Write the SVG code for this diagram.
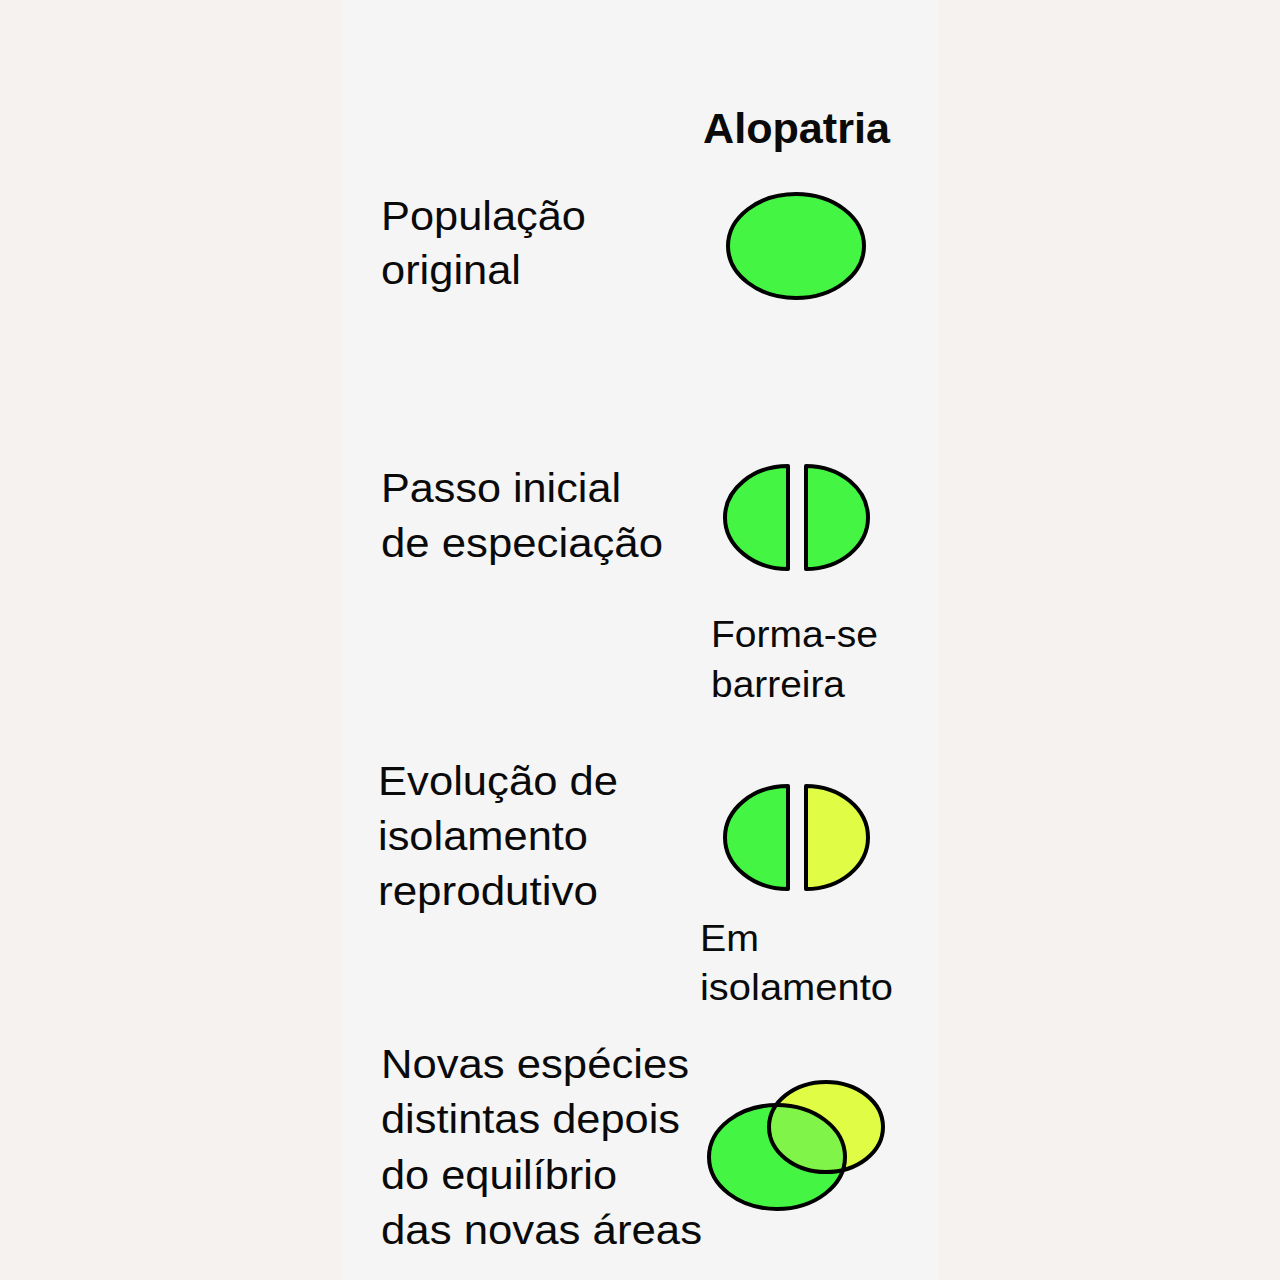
<svg xmlns="http://www.w3.org/2000/svg" width="1280" height="1280" viewBox="0 0 1280 1280">
<style>
text{font-family:"Liberation Sans",Arial,sans-serif;fill:#0a0a0a;font-size:40px}
.t{font-weight:bold;font-size:42px}
.g{fill:#44f544}
.y{fill:#e0fc44}
.s{stroke:#000;stroke-width:4;stroke-linejoin:round}
.n{fill:none}
</style>
<defs>
<clipPath id="cg"><ellipse cx="777" cy="1157" rx="68" ry="52"/></clipPath>
</defs>
<rect width="1280" height="1280" fill="#f5f2f0"/>
<rect x="343" y="0" width="596" height="1280" fill="#f5f5f5"/>
<g id="title"><text class="t" x="703" y="143" textLength="187" lengthAdjust="spacingAndGlyphs">Alopatria</text></g>
<g id="label1">
<text x="381" y="230" textLength="205" lengthAdjust="spacingAndGlyphs">População</text>
<text x="381" y="284" textLength="140" lengthAdjust="spacingAndGlyphs">original</text>
</g>
<g id="label2">
<text x="381" y="502" textLength="240" lengthAdjust="spacingAndGlyphs">Passo inicial</text>
<text x="381" y="557" textLength="282" lengthAdjust="spacingAndGlyphs">de especiação</text>
</g>
<g id="label3">
<text x="378" y="795" textLength="240" lengthAdjust="spacingAndGlyphs">Evolução de</text>
<text x="378" y="850" textLength="210" lengthAdjust="spacingAndGlyphs">isolamento</text>
<text x="378" y="905" textLength="220" lengthAdjust="spacingAndGlyphs">reprodutivo</text>
</g>
<g id="label4">
<text x="381" y="1078" textLength="308" lengthAdjust="spacingAndGlyphs">Novas espécies</text>
<text x="381" y="1133" textLength="299" lengthAdjust="spacingAndGlyphs">distintas depois</text>
<text x="381" y="1189" textLength="236" lengthAdjust="spacingAndGlyphs">do equilíbrio</text>
<text x="381" y="1244" textLength="321" lengthAdjust="spacingAndGlyphs">das novas áreas</text>
</g>
<g id="node-original"><ellipse class="g s" cx="796" cy="246" rx="68" ry="52"/></g>
<g id="node-barrier">
<path class="g s" d="M788,466 A63,51.5 0 0 0 788,569 Z"/>
<path class="g s" d="M806,466 A62,51.5 0 0 1 806,569 Z"/>
<text x="711" y="647" style="font-size:37px" textLength="167" lengthAdjust="spacingAndGlyphs">Forma-se</text>
<text x="711" y="697" style="font-size:37px" textLength="134" lengthAdjust="spacingAndGlyphs">barreira</text>
</g>
<g id="node-isolation">
<path class="g s" d="M788,786 A63,51.5 0 0 0 788,889 Z"/>
<path class="y s" d="M806,786 A62,51.5 0 0 1 806,889 Z"/>
<text x="700" y="951" style="font-size:37px" textLength="59" lengthAdjust="spacingAndGlyphs">Em</text>
<text x="700" y="1000" style="font-size:37px" textLength="193" lengthAdjust="spacingAndGlyphs">isolamento</text>
</g>
<g id="node-species">
<ellipse class="g" cx="777" cy="1157" rx="68" ry="52"/>
<ellipse class="y" cx="826" cy="1127" rx="57" ry="45"/>
<ellipse fill="#80f448" cx="826" cy="1127" rx="57" ry="45" clip-path="url(#cg)"/>
<ellipse class="s n" cx="777" cy="1157" rx="68" ry="52"/>
<ellipse class="s n" cx="826" cy="1127" rx="57" ry="45"/>
</g>
<g id="connectors"/>
</svg>
